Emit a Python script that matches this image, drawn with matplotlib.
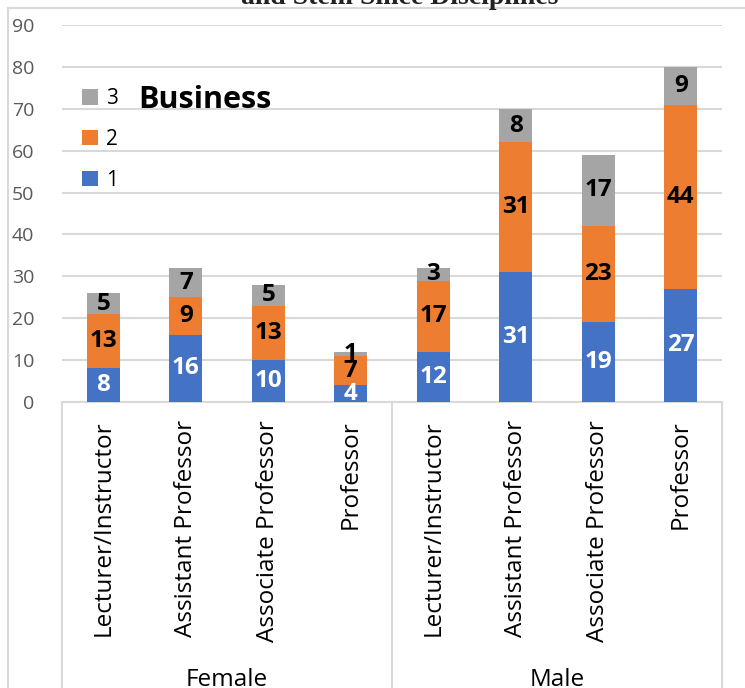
import matplotlib
matplotlib.use("Agg")
import matplotlib.pyplot as plt
from matplotlib.patches import Patch
from matplotlib.lines import Line2D
import numpy as np

categories = ["Lecturer/Instructor", "Assistant Professor", "Associate Professor", "Professor",
              "Lecturer/Instructor", "Assistant Professor", "Associate Professor", "Professor"]
groups = ["Female", "Male"]
s1 = [8, 16, 10, 4, 12, 31, 19, 27]
s2 = [13, 9, 13, 7, 17, 31, 23, 44]
s3 = [5, 7, 5, 1, 3, 8, 17, 9]
series_names = ["1", "2", "3"]
colors = ["#4472C4", "#ED7D31", "#A5A5A5"]
yticks = [0, 10, 20, 30, 40, 50, 60, 70, 80, 90]

W, H = 745, 688
fig = plt.figure(figsize=(W / 100, H / 100), dpi=100)
fig.patch.set_facecolor("white")

def fx(px):
    return px / W

def fy(py):
    return 1 - py / H

# outer chart frame (cropped)
fig.add_artist(Line2D([fx(8), fx(8)], [fy(8), 0], color="#D9D9D9", lw=1.5, transform=fig.transFigure))
fig.add_artist(Line2D([fx(8), 1], [fy(8), fy(8)], color="#D9D9D9", lw=1.5, transform=fig.transFigure))

# cropped title
fig.text(fx(400), fy(-3), "and Stem Since Disciplines", ha="center", va="center",
         fontsize=20, fontweight="bold", family="Liberation Serif", color="#222222")

left, right, top, bottom = 62, 722, 25, 402
ax = fig.add_axes([fx(left), fy(bottom), fx(right) - fx(left), fy(top) - fy(bottom)])

x = np.arange(len(categories))
data = [s1, s2, s3]
bottoms = np.zeros(len(categories))
containers = []
for vals, c, name in zip(data, colors, series_names):
    bc = ax.bar(x, vals, width=0.4, bottom=bottoms, color=c, label=name, zorder=3)
    containers.append(bc)
    bottoms += np.array(vals)

for i, bc in enumerate(containers):
    ax.bar_label(bc, label_type="center", fontsize=17.5, fontweight="bold",
                 color="white" if i == 0 else "black", family="Open Sans", zorder=4)

ax.set_xlim(-0.5, len(categories) - 0.5)
ax.set_ylim(0, 90)
ax.set_yticks(yticks)
ax.set_yticklabels([str(v) for v in yticks], fontsize=14, color="#595959", family="Open Sans")
ax.tick_params(axis="y", length=0, pad=20)
ax.set_xticks([])
ax.grid(axis="y", color="#D9D9D9", lw=1.5, zorder=0)
ax.set_axisbelow(True)
for sp in ["top", "right", "left"]:
    ax.spines[sp].set_visible(False)
ax.spines["bottom"].set_color("#D9D9D9")
ax.spines["bottom"].set_linewidth(1.5)

# category labels (rotated)
for xi, lab in zip(x, categories):
    ax.text(xi, -4.3, lab, rotation=90, ha="center", va="top", fontsize=17.5,
            family="Open Sans", color="black", transform=ax.transData, clip_on=False)

# group separators and labels
n = len(categories)
per = n // len(groups)
for k in range(len(groups) + 1):
    xv = -0.5 + k * per
    ax.plot([xv, xv], [0, -80], color="#D9D9D9", lw=1.5, clip_on=False, zorder=1)
for k, g in enumerate(groups):
    ax.text(-0.5 + k * per + per / 2, -66.3, g, ha="center", va="center", fontsize=17.5,
            family="Open Sans", color="black", clip_on=False)

# legend (reversed)
handles = [Patch(facecolor=c, edgecolor="none") for c in colors][::-1]
labels = series_names[::-1]
leg = ax.legend(handles, labels, loc="upper left", frameon=False,
                handlelength=0.75, handleheight=0.75, handletextpad=0.4, labelspacing=0.95,
                borderaxespad=0, prop={"family": "Open Sans", "size": 15})
leg.set_bbox_to_anchor(((74 - left) / (right - left), 1 - (80 - top) / (bottom - top)), transform=ax.transAxes)

fig.text(fx(138), fy(100), "Business", ha="left", va="center", fontsize=22,
         fontweight="bold", family="Open Sans", color="black")

fig.savefig("out.png", dpi=100, facecolor="white")
